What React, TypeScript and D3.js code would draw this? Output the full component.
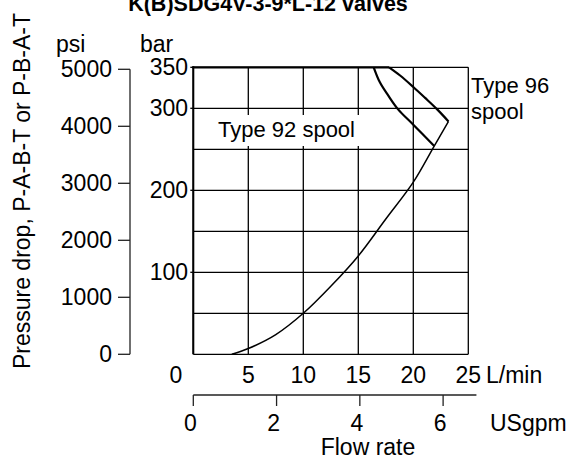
import React from "react";
import * as d3 from "d3";

const title = "K(B)SDG4V-3-9*L-12 valves";
const flowTicks = [0, 5, 10, 15, 20, 25];
const gpmTicks = [0, 2, 4, 6];
const barGrid = [0, 50, 100, 150, 200, 250, 300, 350];
const barLabels = [100, 200, 300, 350];
const psiTicks = [0, 1000, 2000, 3000, 4000, 5000];

// Pressure drop curve (flow L/min, bar)
const dropFlow = [3.5, 5, 7.5, 10, 12.5, 15, 17.5, 20, 21.9, 23.2];
const dropBar = [0, 7, 24, 50, 83, 120, 165, 210, 254, 284];
// Type 92 spool limit
const t92Flow = [16.4, 16.95, 17.7, 18.6, 20, 21.9];
const t92Bar = [350, 332, 316, 299, 280, 254];
// Type 96 spool limit
const t96Flow = [17.8, 18.8, 20, 21.05, 22.15, 23.2];
const t96Bar = [350, 340, 326, 313, 299, 284];

const LPM_PER_GPM = 3.785;
const FONT = "'Liberation Sans', Arial, Helvetica, sans-serif";

export default function App() {
  const x = d3.scaleLinear().domain([0, 25]).range([193.3, 468.3]);
  const y = d3.scaleLinear().domain([0, 350]).range([354.3, 67.3]);
  const yPsi = d3.scaleLinear().domain([0, 5000]).range([354.3, 69.3]);

  const line = d3
    .line<[number, number]>()
    .x((d) => x(d[0]))
    .y((d) => y(d[1]))
    .curve(d3.curveCatmullRom.alpha(0.5));

  const drop = dropFlow.map((f, i) => [f, dropBar[i]] as [number, number]);
  const t92 = t92Flow.map((f, i) => [f, t92Bar[i]] as [number, number]);
  const t96 = t96Flow.map((f, i) => [f, t96Bar[i]] as [number, number]);

  const fs = 23;
  const gx = (g: number) => x(g * LPM_PER_GPM);

  return (
    <svg width={574} height={460} style={{ position: "absolute", left: 0, top: 0 }} fontFamily={FONT}>
      <rect width={574} height={460} fill="#fff" />
      <text x={268} y={11} textAnchor="middle" fontWeight="bold" fontSize={21.5}>
        {title}
      </text>

      {/* grid */}
      {flowTicks.map((f) => (
        <line key={"v" + f} x1={x(f)} x2={x(f)} y1={y(350)} y2={y(0)} stroke="#000" strokeWidth={1.3} />
      ))}
      {barGrid.map((b) => (
        <line key={"h" + b} x1={x(0)} x2={x(25)} y1={y(b)} y2={y(b)} stroke="#000" strokeWidth={1.3} />
      ))}
      {barLabels.map((b) => (
        <line key={"bt" + b} x1={x(0) - 3} x2={x(0)} y1={y(b)} y2={y(b)} stroke="#000" strokeWidth={1.3} />
      ))}
      <line x1={x(0)} x2={x(0)} y1={y(350) - 1} y2={y(0)} stroke="#000" strokeWidth={2} />
      <line x1={x(0) - 1} x2={x(t96Flow[0])} y1={y(350)} y2={y(350)} stroke="#000" strokeWidth={2.2} />

      {/* label with white background */}
      <rect x={214} y={115} width={156} height={31} fill="#fff" />
      <text x={218} y={137} fontSize={22}>Type 92 spool</text>

      {/* curves */}
      <path d={line(drop) ?? ""} fill="none" stroke="#000" strokeWidth={1.5} />
      <path d={line(t92) ?? ""} fill="none" stroke="#000" strokeWidth={2.2} />
      <path d={line(t96) ?? ""} fill="none" stroke="#000" strokeWidth={2.2} />

      <text x={471} y={93} fontSize={22}>Type 96</text>
      <text x={471} y={119} fontSize={22}>spool</text>

      {/* bar labels */}
      {barLabels.map((b) => (
        <text key={"bl" + b} x={188} y={y(b) + 8} textAnchor="end" fontSize={fs}>
          {b}
        </text>
      ))}
      <text x={140} y={52} fontSize={fs}>bar</text>

      {/* psi axis */}
      <line x1={130} x2={130} y1={yPsi(5000)} y2={yPsi(0)} stroke="#222" strokeWidth={1.3} />
      {psiTicks.map((p) => (
        <g key={"p" + p}>
          <line x1={118} x2={130} y1={yPsi(p)} y2={yPsi(p)} stroke="#222" strokeWidth={1.3} />
          <text x={112} y={yPsi(p) + 8} textAnchor="end" fontSize={fs}>
            {p}
          </text>
        </g>
      ))}
      <text x={56} y={52} fontSize={fs}>psi</text>

      <text
        transform={`translate(30,${191}) rotate(-90)`}
        textAnchor="middle"
        fontSize={fs}
      >
        Pressure drop, P-A-B-T or P-B-A-T
      </text>

      {/* flow L/min labels */}
      {flowTicks.map((f) => (
        <text key={"fl" + f} x={f === 0 ? 176 : x(f)} y={383} textAnchor="middle" fontSize={fs}>
          {f}
        </text>
      ))}
      <text x={486} y={383} fontSize={fs}>L/min</text>

      {/* gpm axis */}
      <line x1={gx(0)} x2={gx(6.8)} y1={395} y2={395} stroke="#222" strokeWidth={1.3} />
      {gpmTicks.map((g) => (
        <g key={"g" + g}>
          <line x1={gx(g)} x2={gx(g)} y1={395} y2={406} stroke="#222" strokeWidth={1.3} />
          <text x={gx(g) - 3} y={431} textAnchor="middle" fontSize={fs}>
            {g}
          </text>
        </g>
      ))}
      <text x={490} y={431} fontSize={fs}>USgpm</text>
      <text x={368} y={455} textAnchor="middle" fontSize={fs}>Flow rate</text>
    </svg>
  );
}
